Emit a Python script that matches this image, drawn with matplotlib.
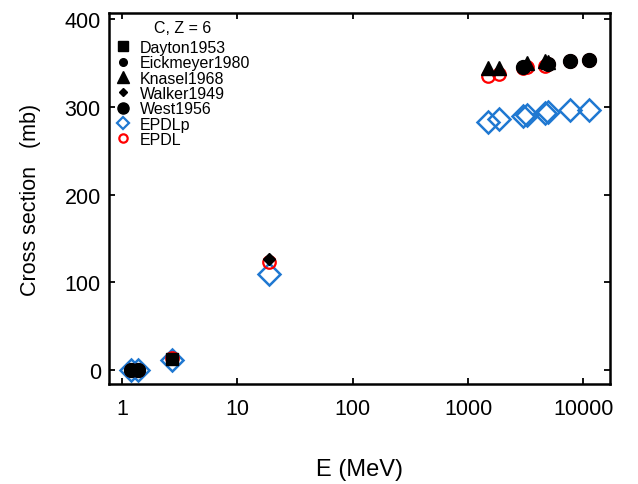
import matplotlib
matplotlib.use("Agg")
import matplotlib.pyplot as plt
from matplotlib.lines import Line2D

plt.rcParams['font.family'] = ['Liberation Sans', 'DejaVu Sans']

# model values
epdlp_e = [1.2, 1.38, 2.72, 18.6, 1490, 1860, 3010, 3260, 4670, 4950, 7700, 11300]
epdlp_cs = [0, 0, 12, 110, 283, 286, 290, 291, 293, 294, 296, 297]
epdl_e = [1.2, 1.38, 2.72, 18.6, 1490, 1860, 3010, 3260, 4670, 4950, 7700, 11300]
epdl_cs = [0, 0, 14, 123, 335, 338, 344, 346, 347, 349, 352, 354]

# measurements
dayton_e = [2.72]
dayton_cs = [13]
eick_e = [3010, 4670]
eick_cs = [346, 349]
knasel_e = [1490, 1860, 3260, 4670, 4950]
knasel_cs = [344, 344, 350, 352, 351]
walker_e = [18.6]
walker_cs = [127]
west_e = [1.2, 1.38, 3010, 4950, 7700, 11300]
west_cs = [0, 0, 346, 349, 352, 354]

fig = plt.figure(figsize=(6.38, 4.85), dpi=100)
ax = fig.add_axes([0.171, 0.206, 0.785, 0.765])

ax.plot(epdlp_e, epdlp_cs, 'D', ms=11, mfc='none', mec='#1f78d1', mew=1.8, ls='none')
ax.plot(epdl_e, epdl_cs, 'o', ms=9, mfc='none', mec='red', mew=1.6, ls='none')
ax.plot(dayton_e, dayton_cs, 's', ms=9, color='black', ls='none')
ax.plot(eick_e, eick_cs, 'o', ms=6, color='black', ls='none')
ax.plot(knasel_e, knasel_cs, '^', ms=10.5, color='black', ls='none')
ax.plot(walker_e, walker_cs, 'D', ms=6, color='black', ls='none')
ax.plot(west_e, west_cs, 'o', ms=10, color='black', ls='none')

ax.set_xscale('log')
ax.set_xlim(0.77, 17000)
ax.set_ylim(-16, 407)
ax.set_xticks([1, 10, 100, 1000, 10000])
ax.set_xticklabels(['1', '10', '100', '1000', '10000'])
ax.minorticks_off()
ax.set_yticks([0, 100, 200, 300, 400])
ax.tick_params(direction='in', top=True, right=True, length=4, width=1.3,
               labelsize=15.5)
ax.tick_params(axis='x', pad=10)
ax.tick_params(axis='y', pad=6)
for s in ax.spines.values():
    s.set_linewidth(1.8)

ax.set_xlabel('E (MeV)', fontsize=17, labelpad=28)
ax.set_ylabel('Cross section   (mb)', fontsize=15.5, labelpad=17)

handles = [
    Line2D([], [], marker='s', color='black', ls='none', ms=7),
    Line2D([], [], marker='o', color='black', ls='none', ms=5.5),
    Line2D([], [], marker='^', color='black', ls='none', ms=8),
    Line2D([], [], marker='D', color='black', ls='none', ms=4.5),
    Line2D([], [], marker='o', color='black', ls='none', ms=8),
    Line2D([], [], marker='D', mfc='none', mec='#1f78d1', mew=1.6, ls='none', ms=6.5),
    Line2D([], [], marker='o', mfc='none', mec='red', mew=1.6, ls='none', ms=6),
]
labels = ['Dayton1953', 'Eickmeyer1980', 'Knasel1968', 'Walker1949',
          'West1956', 'EPDLp', 'EPDL']
ax.text(0.146, 0.962, 'C, Z = 6', transform=ax.transAxes, fontsize=11.5,
        ha='center', va='center')
leg = ax.legend(handles, labels, loc='upper left', bbox_to_anchor=(0, 0.949),
                frameon=False, fontsize=11.5,
                handlelength=0.8, handletextpad=0.6, labelspacing=0.02,
                borderaxespad=0.2, borderpad=0.3)

fig.savefig('out.png', dpi=100)
